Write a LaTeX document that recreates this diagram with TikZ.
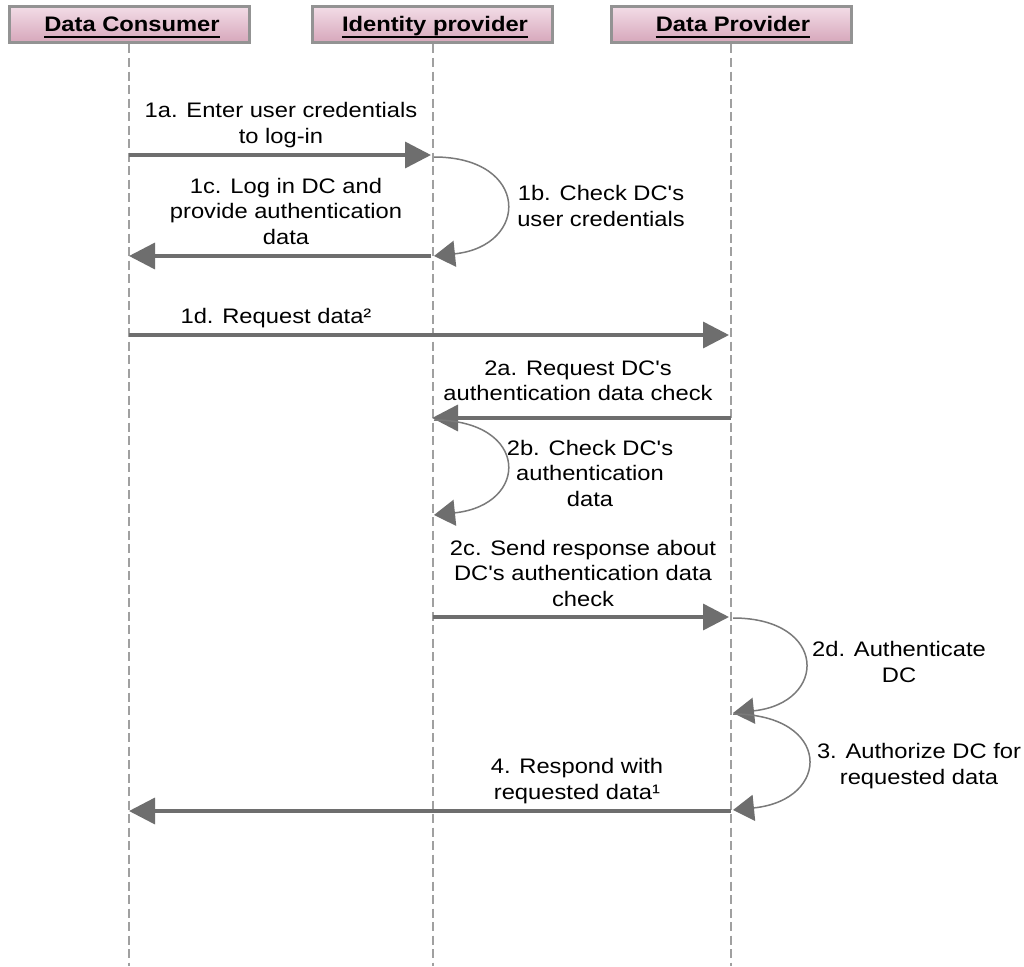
\documentclass[tikz,border=0pt]{standalone}
\usepackage{fontspec}
\setmainfont{Liberation Sans}[FakeStretch=1.13,Ligatures=TeXOff]
\usetikzlibrary{arrows.meta}
\definecolor{arrowgray}{HTML}{6E6E6E}
\definecolor{loopgray}{HTML}{7A7A7A}
\definecolor{lifegray}{HTML}{A0A0A0}
\definecolor{boxborder}{HTML}{939393}
\definecolor{pinktop}{HTML}{F2DCE6}
\definecolor{pinkbot}{HTML}{D6A6BA}
\begin{document}
\begin{tikzpicture}[x=1pt,y=-1pt,
  hbox/.style={draw=boxborder, line width=3pt, top color=pinktop, bottom color=pinkbot,
    minimum width=240pt, minimum height=36pt, inner sep=0pt},
  htext/.style={font=\fontsize{21}{24}\selectfont\bfseries, inner sep=0pt, anchor=base, text=black},
  uline/.style={line width=1.5pt, black},
  lifeline/.style={lifegray, line width=2pt, dash pattern=on 9pt off 4.5pt},
  msg/.style={arrowgray, line width=3.5pt, -{Triangle[length=26pt,width=26pt]}},
  selfloop/.style={loopgray, line width=1.5pt, -{Triangle[length=21pt,width=26pt,color=arrowgray]}},
  lbl/.style={font=\fontsize{21}{25.5}\selectfont, align=center, inner sep=0pt, text=black}]
\useasboundingbox[fill=white] (0,0) rectangle (1024,966);

% heads
\node[hbox] (dc) at (129,25) {};
\node[hbox] (idp) at (432.5,25) {};
\node[hbox] (dp) at (731,25) {};
\node[htext] (dct) at (132,32) {Data Consumer};
\node[htext] (idpt) at (435,32) {Identity provider};
\node[htext] (dpt) at (733,32) {Data Provider};
\draw[uline] ([yshift=-5pt]dct.base west) -- ([yshift=-5pt]dct.base east);
\draw[uline] ([yshift=-5pt]idpt.base west) -- ([yshift=-5pt]idpt.base east);
\draw[uline] ([yshift=-5pt]dpt.base west) -- ([yshift=-5pt]dpt.base east);

% lifelines
\coordinate (dcb) at (129,966);
\coordinate (idpb) at (432.5,966);
\coordinate (dpb) at (730.5,966);
\draw[lifeline] (dc.south -| dcb) -- (dcb);
\draw[lifeline] (idp.south -| idpb) -- (idpb);
\draw[lifeline] (dp.south -| dpb) -- (dpb);

% message points
\coordinate (m1as) at (129,155);   \coordinate (m1ae) at (431,155);
\coordinate (m1bs) at (434,157);   \coordinate (m1be) at (434,256);
\coordinate (m1cs) at (431,256);   \coordinate (m1ce) at (129,256);
\coordinate (m1ds) at (129,335);   \coordinate (m1de) at (729,335);
\coordinate (m2as) at (730.5,418); \coordinate (m2ae) at (432,418);
\coordinate (m2bs) at (434,420);   \coordinate (m2be) at (434,515);
\coordinate (m2cs) at (432.5,617); \coordinate (m2ce) at (729,617);
\coordinate (m2ds) at (733,618);   \coordinate (m2de) at (733,713);
\coordinate (m3s)  at (733,714);   \coordinate (m3e)  at (733,810);
\coordinate (m4s)  at (730.5,811); \coordinate (m4e)  at (129,811);

\draw[msg] (m1as) -- (m1ae);
\draw[selfloop] (m1bs) .. controls (530,157) and (530,246) .. (m1be);
\draw[msg] (m1cs) -- (m1ce);
\draw[msg] (m1ds) -- (m1de);
\draw[msg] (m2as) -- (m2ae);
\draw[selfloop] (m2bs) .. controls (530,420) and (530,505) .. (m2be);
\draw[msg] (m2cs) -- (m2ce);
\draw[selfloop] (m2ds) .. controls (828,618) and (828,703) .. (m2de);
\draw[selfloop] (m3s) .. controls (832,714) and (832,800) .. (m3e);
\draw[msg] (m4s) -- (m4e);

% labels
\node[lbl] (l1a) at (281,125) {1a. Enter user credentials\\to log-in};
\node[lbl] (l1b) at (601,206) {1b. Check DC's\\user credentials};
\node[lbl] (l1c) at (286,211) {1c. Log in DC and\\provide authentication\\data};
\node[lbl] (l1d) at (276,318) {1d. Request data²};
\node[lbl] (l2a) at (578,381) {2a. Request DC's\\authentication data check};
\node[lbl] (l2b) at (590,473) {2b. Check DC's\\authentication\\data};
\node[lbl] (l2c) at (583,573) {2c. Send response about\\DC's authentication data\\check};
\node[lbl] (l2d) at (899,662) {2d. Authenticate\\DC};
\node[lbl] (l3)  at (919,766) {3. Authorize DC for\\requested data};
\node[lbl] (l4)  at (577,781) {4. Respond with\\requested data¹};
\end{tikzpicture}
\end{document}
